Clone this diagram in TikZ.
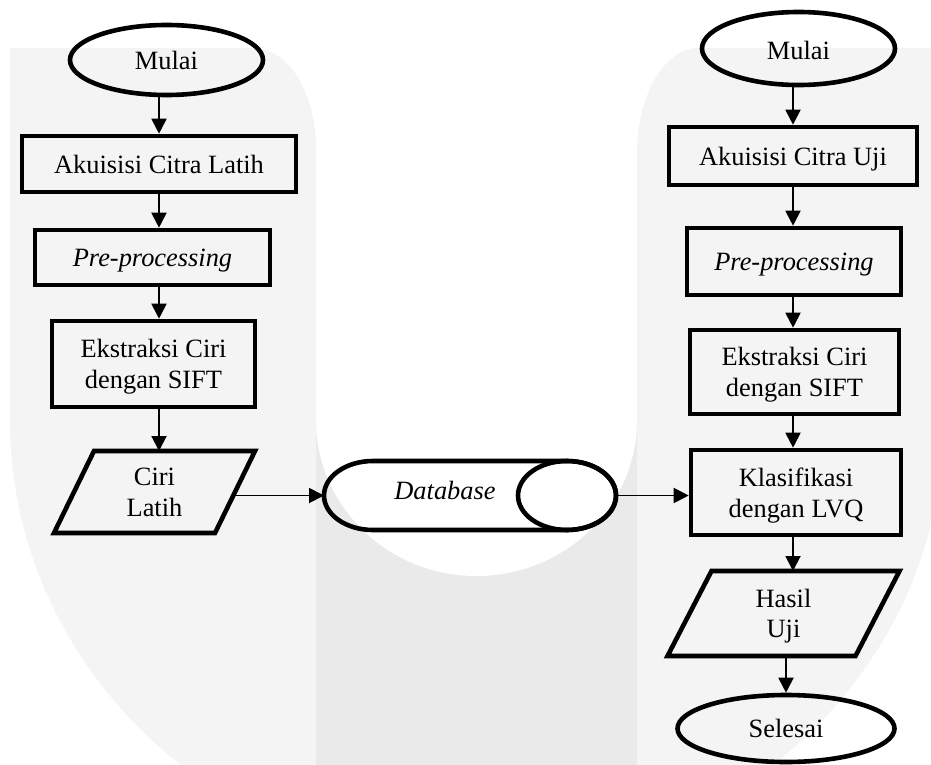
\documentclass[tikz,border=0pt]{standalone}
\usepackage{fontspec}
\setmainfont{Liberation Serif}
\usetikzlibrary{shapes.geometric,arrows.meta}
\definecolor{wmlight}{HTML}{F4F4F4}
\definecolor{wmdark}{HTML}{EAEAEA}
\begin{document}
\begin{tikzpicture}[x=0.5pt,y=-0.5pt,
  font=\fontsize{13.2}{15.3}\selectfont,
  every node/.style={text depth=0pt},
  boxnode/.style={draw,line width=2.3pt,rectangle,inner sep=0pt,align=center},
  ovalnode/.style={draw,line width=2.3pt,ellipse,inner sep=0pt,align=center},
  ghost/.style={draw=none,rectangle,inner sep=0pt,outer sep=0pt,align=center},
  thick border/.style={line width=2.3pt,line join=miter},
  arr/.style={line width=0.95pt,-{Triangle[length=7.5pt,width=7.5pt]}}]
\useasboundingbox (0,0) rectangle (931,765);
% ---------- watermark ----------
\begin{scope}
\clip (0,0) rectangle (931,765);
\fill[wmlight] (10,48.5) rectangle (944,420);
\begin{scope}
\clip (0,420) rectangle (944,900);
\fill[wmlight] (477,420) ellipse [x radius=467, y radius=446];
\end{scope}
\fill[wmdark] (316,420) rectangle (637,765);
\fill[white] (316,0) rectangle (637,420);
\fill[white] (476.5,420) ellipse [x radius=160.5, y radius=156];
\fill[white] (256,48) rectangle (316,149);
\fill[wmlight] (256,149) ellipse [x radius=60, y radius=100];
\fill[white] (637,48) rectangle (699,153);
\fill[wmlight] (699,153) ellipse [x radius=62, y radius=105];
\end{scope}
% ---------- left column ----------
\node[ovalnode,minimum width=96.5pt,minimum height=35pt] (mulaiL) at (166.5,60) {Mulai};
\node[boxnode,minimum width=137pt,minimum height=28pt] (akuL) at (159,164) {Akuisisi Citra Latih};
\node[boxnode,minimum width=117.5pt,minimum height=27.5pt] (preL) at (152.5,257.5) {\textit{Pre-processing}};
\node[boxnode,minimum width=101.5pt,minimum height=43pt] (ekL) at (153.5,364) {Ekstraksi Ciri\\dengan SIFT};
\node[ghost,minimum width=80.5pt,minimum height=41pt] (ciriL) at (154.5,492) {Ciri\\Latih};
\draw[thick border] ([xshift=10pt]ciriL.north west) -- ([xshift=10pt]ciriL.north east)
  -- ([xshift=-10pt]ciriL.south east) -- ([xshift=-10pt]ciriL.south west) -- cycle;
% ---------- database ----------
\node[ghost,minimum width=146pt,minimum height=34.5pt,
  label={[xshift=-12.5pt,yshift=2.5pt]center:\textit{Database}}] (db) at (470,495.5) {};
\draw[thick border] ([xshift=24.5pt]db.north west) -- ([xshift=-24.5pt]db.north east)
  arc[start angle=90,end angle=-90,x radius=24.5pt,y radius=17.25pt]
  -- ([xshift=24.5pt]db.south west)
  arc[start angle=270,end angle=90,x radius=24.5pt,y radius=17.25pt] -- cycle;
\draw[thick border] ([xshift=-24.5pt]db.east) ellipse [x radius=24.5pt,y radius=17.25pt];
% ---------- right column ----------
\node[ovalnode,minimum width=96.5pt,minimum height=36.5pt] (mulaiR) at (798.5,48.5) {\raisebox{-1.5pt}{Mulai}};
\node[boxnode,minimum width=124pt,minimum height=29pt] (akuR) at (793,156) {Akuisisi Citra Uji};
\node[boxnode,minimum width=107pt,minimum height=33.5pt] (preR) at (794,261.5) {\textit{Pre-processing}};
\node[boxnode,minimum width=104.5pt,minimum height=42pt] (ekR) at (794.5,372) {Ekstraksi Ciri\\dengan SIFT};
\node[boxnode,minimum width=105pt,minimum height=42.5pt] (klR) at (796,492.5) {Klasifikasi\\dengan LVQ};
\node[ghost,minimum width=94pt,minimum height=42.5pt] (hasilR) at (783.5,613.5) {Hasil\\Uji};
\draw[thick border] ([xshift=11pt]hasilR.north west) -- ([xshift=11pt]hasilR.north east)
  -- ([xshift=-11pt]hasilR.south east) -- ([xshift=-11pt]hasilR.south west) -- cycle;
\node[ovalnode,minimum width=108.5pt,minimum height=33.5pt] (selR) at (786,728.5) {Selesai};
% ---------- connectors ----------
\draw[arr] (akuL.north |- mulaiL.south) -- (akuL.north);
\draw[arr] (akuL.south) -- (akuL.south |- preL.north);
\draw[arr] (akuL.south |- preL.south) -- (akuL.south |- ekL.north);
\draw[arr] (akuL.south |- ekL.south) -- (akuL.south |- ciriL.north);
\draw[arr] (ciriL.east |- db.west) -- (db.west);
\draw[arr] (db.east) -- (db.east -| klR.west);
\draw[arr] (akuR.north |- mulaiR.south) -- (akuR.north);
\draw[arr] (akuR.south) -- (akuR.south |- preR.north);
\draw[arr] (akuR.south |- preR.south) -- (akuR.south |- ekR.north);
\draw[arr] (akuR.south |- ekR.south) -- (akuR.south |- klR.north);
\draw[arr] (akuR.south |- klR.south) -- (akuR.south |- hasilR.north);
\draw[arr] (selR.north |- hasilR.south) -- (selR.north);
\end{tikzpicture}
\end{document}
